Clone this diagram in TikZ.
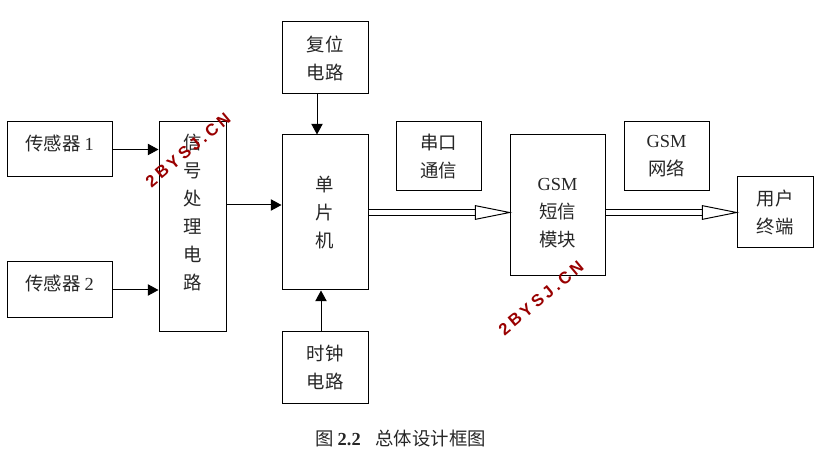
\documentclass[tikz,border=0pt]{standalone}
\usepackage{fontspec}
\setmainfont{Liberation Serif}
\newfontfamily\cjk{Noto Sans CJK SC}
\newfontfamily\markfont[LetterSpace=20]{Liberation Sans}
\usetikzlibrary{arrows.meta}

\tikzset{
    boxtext/.style={align=center, inner sep=0pt, text=black!85, font=\fontsize{13.8}{21}\selectfont\cjk},
    block/.style 2 args={boxtext, draw, line width=.75pt, minimum width=#1*.75pt, minimum height=#2*.75pt},
    signal/.style={-{Triangle[length=8pt,width=8.5pt]}, line width=.75pt},
    busline/.style={-{Triangle[open,fill=white,length=28pt,width=11pt]}, double, double distance=4.4pt, line width=.75pt, shorten >=-2pt},
    watermark/.style={rotate=40, inner sep=0pt, text=red!60!black, font=\fontsize{12.5}{15}\selectfont\markfont\bfseries}
}

\begin{document}
\begin{tikzpicture}[x=.75pt,y=-.75pt]
        \useasboundingbox (0,0) rectangle (817,466);

        % Blocks
        \node[block={105}{55}] (sensorA) at (59.5,149.5) {};
        \node[block={105}{56}] (sensorB) at (59.5,290) {};
        \node[block={67}{210}] (proc) at (192.5,227) {};
        \node[block={86}{155}] (mcu) at (325,212.5) {单\\片\\机};
        \node[block={86}{72}] (reset) at (325,58) {复位\\电路};
        \node[block={86}{71}] (clock) at (325,367.5) {时钟\\电路};
        \node[block={85}{69}] (serial) at (438.5,156.5) {串口\\通信};
        \node[block={95}{141}] (gsm) at (557.5,205.5) {};
        \node[block={85}{69}] (net) at (666.5,156.5) {{\rmfamily GSM}\\网络};
        \node[block={76}{71}] (user) at (775,212.5) {用户\\终端};

        % Text that sits off centre in its block
        \node[boxtext] (sensorAtext) at (59.5,143) {传感器 {\rmfamily 1}};
        \node[boxtext] (sensorBtext) at (59.5,283) {传感器 {\rmfamily 2}};
        \node[boxtext] (proctext) at (192.5,212) {信\\号\\处\\理\\电\\路};
        \node[boxtext] (gsmtext) at (557.5,213) {{\rmfamily GSM}\\短信\\模块};

        % Arrows
        \coordinate (procout) at (226,205);
        \coordinate (resetout) at (317,94);
        \coordinate (clockout) at (321,332);
        \draw[signal] (sensorA.east) -- (sensorA.east -| proc.west);
        \draw[signal] (sensorB.east) -- (sensorB.east -| proc.west);
        \draw[signal] (procout) -- (procout -| mcu.west);
        \draw[signal] (resetout) -- (resetout |- mcu.north);
        \draw[signal] (clockout) -- (clockout |- mcu.south);
        \draw[busline] (mcu.east) -- (gsm.west |- mcu.east);
        \draw[busline] (gsm.east |- user.west) -- (user.west);

        % Caption
        \node[boxtext] (caption) at (400.5,439) {图 {\rmfamily\bfseries 2.2}\hspace{.8em}总体设计框图};

        % Watermarks
        \node[watermark] (markA) at (188,150) {2BYSJ.CN};
        \node[watermark] (markB) at (541,298) {2BYSJ.CN};
\end{tikzpicture}
\end{document}
